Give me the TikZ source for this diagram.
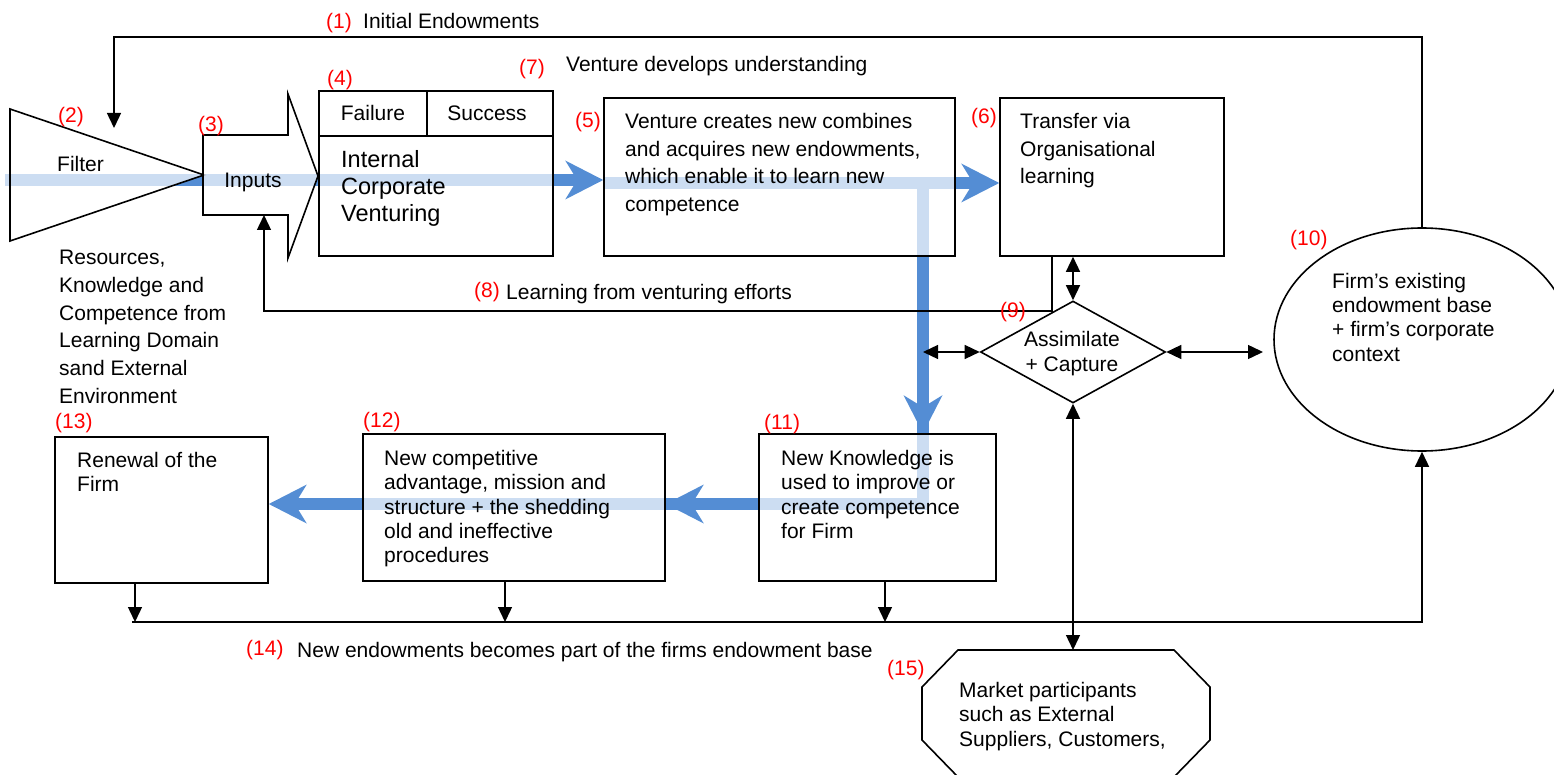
\documentclass[tikz,border=0pt]{standalone}
\usepackage{fontspec}
\setmainfont{Liberation Sans}
\usetikzlibrary{arrows.meta,shapes.geometric,calc}
\pgfdeclarelayer{back}
\pgfsetlayers{back,main}
\definecolor{flowblue}{RGB}{84,141,212}
\definecolor{flowlight}{RGB}{204,221,242}
\definecolor{numred}{RGB}{255,0,0}
% invisible struts fixing the first baseline of multi-line texts
\newcommand\lh{\rule{0pt}{16pt}}
\newcommand\lhb{\rule{0pt}{18pt}}
% broad blue arrow heads (tip given as coordinate)
\newcommand\headright[1]{\fill[flowblue] #1 -- ++(-38,-19.5) -- ++(12,19.5) -- ++(-12,19.5) -- cycle;}
\newcommand\headleft[1]{\fill[flowblue] #1 -- ++(38,-19.5) -- ++(-12,19.5) -- ++(12,19.5) -- cycle;}
\newcommand\headdown[1]{\fill[flowblue] #1 -- ++(-19.5,-38) -- ++(19.5,12) -- ++(19.5,-12) -- cycle;}
\tikzset{
  shapeline/.style={draw, line width=1.6pt, fill=white, fill opacity=0.7, draw opacity=1},
  box/.style={shapeline, rectangle, inner sep=0pt},
  ln/.style={line width=1.4pt},
  onehead/.style={-{Triangle[length=15pt,width=14pt]}},
  twohead/.style={{Triangle[length=15pt,width=14pt]}-{Triangle[length=15pt,width=14pt]}},
  blueshaft/.style={line width=12.5pt, draw=flowblue},
  lab/.style={anchor=base west, inner sep=0pt, text=numred, font=\fontsize{21}{24}\selectfont},
  plain/.style={anchor=base west, inner sep=0pt, font=\fontsize{21}{24}\selectfont},
  mid/.style={anchor=base, inner sep=0pt, font=\fontsize{21}{24}\selectfont},
  tx/.style={anchor=north west, inner sep=0pt, align=left, yshift=16pt, font=\fontsize{21}{24.4}\selectfont},
  wide/.style={tx, font=\fontsize{21}{27.9}\selectfont},
  bigtx/.style={anchor=north west, inner sep=0pt, align=left, yshift=18pt, font=\fontsize{23.5}{27}\selectfont},
  ctr/.style={anchor=north, inner sep=0pt, align=center, yshift=16pt, font=\fontsize{21}{25}\selectfont},
}
\begin{document}
\begin{tikzpicture}[x=1pt,y=-1pt]
\useasboundingbox (0,0) rectangle (1554,775);
\clip (0,0) rectangle (1554,775);

% ---- shapes ----
\draw[shapeline] (10,109) -- (10,241) -- (204,175) coordinate (ftip) -- cycle;
\draw[shapeline] (203,135) -- (288,135) -- (288,94) -- (318,176) -- (288,258) -- (288,215)
  -- (203,215) -- cycle;
\coordinate (inb) at (264,215);

\node[box, minimum width=108pt, minimum height=45pt] (fail) at (373,113.5) {};
\node[box, minimum width=126pt, minimum height=45pt] (succ) at (490,113.5) {};
\node[box, minimum width=234pt, minimum height=120pt] (icv) at (436,196) {};
\node[box, minimum width=351pt, minimum height=158pt] (b5) at (779.5,177) {};
\node[box, minimum width=224pt, minimum height=158pt] (b6) at (1112,177) {};
\node[box, minimum width=213pt, minimum height=146pt] (b13) at (161.5,510) {};
\node[box, minimum width=302pt, minimum height=147pt] (b12) at (514,507.5) {};
\node[box, minimum width=237pt, minimum height=147pt] (b11) at (877.5,507.5) {};
\node[shapeline, diamond, inner sep=0pt, minimum width=185pt, minimum height=102pt] (dia) at (1073,352) {};
\node[shapeline, ellipse, inner sep=0pt, minimum width=296pt, minimum height=223pt] (ell) at (1422,339.5) {};
\draw[shapeline] (958,650) coordinate (oct) -- (1174,650) -- (1210,687) -- (1210,740)
  -- (1174,777) -- (958,777) -- (922,740) -- (922,687) -- cycle;
\coordinate (octtop) at (1073,650);

% ---- broad blue flow ----
\begin{pgfonlayer}{back}
  \draw[line width=12.5pt, draw=flowlight] (5,180) -- (10,180);
  \draw[blueshaft, shorten >=26pt] (10,180) -- (b5.west |- 0,180);
  \headright{(b5.west |- 0,180)}
  \draw[blueshaft, shorten >=26pt] (b5.west |- 0,183) -- (b6.west |- 0,183);
  \headright{(b6.west |- 0,183)}
  \draw[blueshaft, shorten >=26pt] (923,183) -- (923,504) -- (b13.east |- 0,504);
  \headdown{(b11.north -| 923,0)}
  \headleft{(b12.east |- 0,504)}
  \headleft{(b13.east |- 0,504)}
\end{pgfonlayer}

% ---- connectors ----
\coordinate (fin) at (114,128);
\draw[ln, onehead] (ell.north) |- (114,37) -- (fin);
\draw[ln, onehead] (b6.south -| 1052,0) |- (264,311) -- (inb);
\draw[ln, twohead] (b6.south -| dia.north) -- (dia.north);
\draw[ln, twohead] (dia.west -| 923,0) -- (dia.west);
\draw[ln, twohead] (dia.east) -- (dia.east -| 1263,0);
\draw[ln, twohead] (dia.south) -- (octtop);
\draw[ln, onehead] (b13.south -| 135,0) -- (135,622);
\draw[ln, onehead] (b12.south -| 505,0) -- (505,622);
\draw[ln, onehead] (b11.south -| 885,0) -- (885,622);
\draw[ln, onehead] (132,622) -- (1422,622) -- (ell.south);

% ---- texts ----
\node[lab] (n1) at (326,29) {(1)};
\node[plain] (t1) at (363,29) {Initial Endowments};
\node[lab] (n7) at (519,75) {(7)};
\node[plain] (t7) at (566,72) {Venture develops understanding};
\node[lab] (n4) at (327,86) {(4)};
\node[mid] (tfail) at (373,121) {Failure};
\node[mid] (tsucc) at (487,121) {Success};
\node[bigtx] (ticv) at (341,167) {\lhb Internal\\Corporate\\Venturing};
\node[lab] (n2) at (58,123) {(2)};
\node[plain] (tfilt) at (57,172) {Filter};
\node[lab] (n3) at (198,132) {(3)};
\node[mid] (tin) at (253,188) {Inputs};
\node[lab] (n5) at (575,128) {(5)};
\node[wide] (t5) at (625,128) {\lh Venture creates new combines\\and acquires new endowments,\\which enable it to learn new\\competence};
\node[lab] (n6) at (971,124) {(6)};
\node[wide] (t6) at (1020,128) {\lh Transfer via\\Organisational\\learning};
\node[lab] (n8) at (474,298) {(8)};
\node[plain] (t8) at (506,300) {Learning from venturing efforts};
\node[lab] (n9) at (1000,318) {(9)};
\node[ctr] (t9) at (1072,346) {\lh Assimilate\\+ Capture};
\node[lab] (n10) at (1290,246) {(10)};
\node[tx] (t10) at (1332,288) {\lh Firm’s existing\\endowment base\\+ firm’s corporate\\context};
\node[wide] (tres) at (59,264) {\lh Resources,\\Knowledge and\\Competence from\\Learning Domain\\sand External\\Environment};
\node[lab] (n13) at (55,428) {(13)};
\node[lab] (n12) at (363,427) {(12)};
\node[lab] (n11) at (764,429) {(11)};
\node[tx] (t13) at (77,467) {\lh Renewal of the\\Firm};
\node[tx] (t12) at (384,465) {\lh New competitive\\advantage, mission and\\structure + the shedding\\old and ineffective\\procedures};
\node[tx] (t11) at (781,465) {\lh New Knowledge is\\used to improve or\\create competence\\for Firm};
\node[lab] (n14) at (246,655) {(14)};
\node[plain] (t14) at (297,657) {New endowments becomes part of the firms endowment base};
\node[lab] (n15) at (887,675) {(15)};
\node[tx] (t15) at (959,697) {\lh Market participants\\such as External\\Suppliers, Customers,};
\end{tikzpicture}
\end{document}
